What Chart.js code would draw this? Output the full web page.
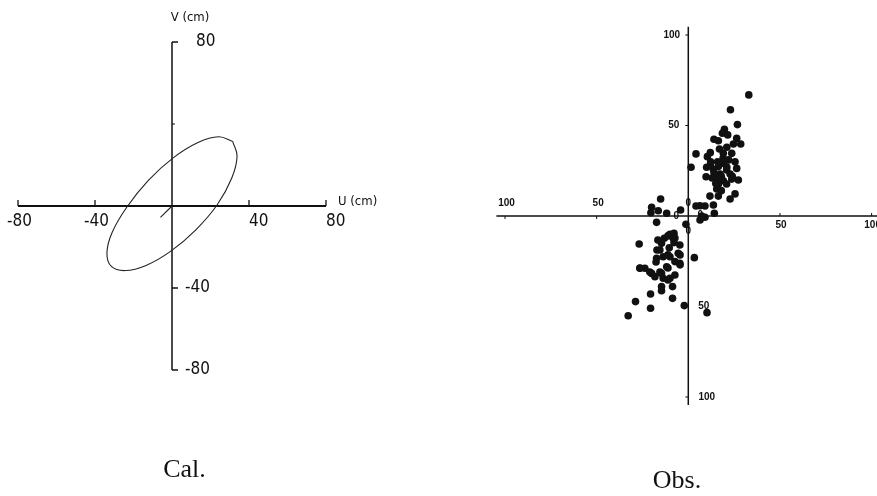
<!DOCTYPE html>
<html>
<head>
<meta charset="utf-8">
<script src="https://cdn.jsdelivr.net/npm/chart.js@4"></script>
<style>
  html, body { margin: 0; padding: 0; background: #fff; }
  body { width: 877px; height: 496px; position: relative; overflow: hidden; }
  #calBox { position: absolute; left: 0; top: 0; width: 440px; height: 496px; }
  #obsBox { position: absolute; left: 440px; top: 0; width: 437px; height: 496px; }
</style>
</head>
<body>
<div id="calBox"><canvas id="calChart"></canvas></div>
<div id="obsBox"><canvas id="obsChart"></canvas></div>
<script>
// Cal. panel: computed ellipse (U, V in cm)
const calEllipseU = [31.5, 24.3, 13.5, 0.6, -12.4, -23.5, -31.0, -33.8, -31.5, -24.3, -13.5, -0.6, 12.4, 23.5, 31.0, 33.8, 31.5];
const calEllipseV = [31.5, 33.8, 31.0, 23.5, 12.4, -0.6, -12.7, -22.8, -29.5, -31.5, -29.0, -22.0, -11.6, 0.6, 13.5, 24.3, 31.5];
const calSegU = [-6, 0];
const calSegV = [-5.5, 0];
const calUTicks = [-80, -40, 40, 80];
const calVTicks = [80, -40, -80];

// Obs. panel: observed points
const obsU = [33.0, 23.0, 26.8, 19.7, 18.6, 21.5, 14.0, 16.4, 26.4, 28.6,
  24.6, 4.2, 1.5, 10.4, 12.2, 10.0, 19.1, 23.7, 25.5, 19.1,
  16.4, 13.7, 20.9, 26.4, 17.3, 22.8, 27.3, 15.5, 19.1, 23.7,
  9.7, 16.4, 20.9, 15.5, 11.8, 16.4, 25.5, 22.8, 13.7, 14.2,
  9.1, 6.4, 4.2, 7.3, 6.4, 9.1,
  14, 18, 21, 16, 12, 19, 22, 15, 18, 13, 24, 17, 21, 12,
  -15.1, -20.0, -20.4, -16.4, -11.8, -4.2, -17.3, -1.3,
  -10.0, -7.8, -13.1, -14.6, -8.2, -7.8, -15.5, -10.4, -4.6, -5.5,
  -17.3, -13.7, -10.0, -7.3, -4.6, -26.8, -26.4, -23.7, -20.0, -18.2,
  -14.6, -13.7, -10.0, -7.3, -11.8, -14.6, -14.6, -8.6, 3.3, -20.6,
  -8.6, -28.8, -20.6, -2.2, 10.2, -32.8,
  -16.6, -7.3, -11.1, -17.1, -17.6, -15.5, -11.1, -4.5, -11.1, -11.1, -26.4, -21.0, -4.5];
const obsV = [66.9, 58.7, 50.5, 47.9, 45.7, 44.8, 42.4, 41.6, 42.9, 39.8,
  39.8, 34.3, 26.9, 32.8, 30.0, 26.9, 34.6, 34.6, 30.0, 29.1,
  27.3, 25.8, 25.4, 26.3, 23.2, 23.2, 19.9, 20.8, 19.5, 20.4,
  21.7, 17.7, 17.7, 14.9, 11.0, 11.0, 12.2, 9.4, 6.1, 1.5,
  5.5, 5.7, 5.5, 0, -2.2, -0.7,
  24, 22, 27, 30, 28, 32, 31, 18, 14, 21, 22, 37, 38, 35,
  9.4, 4.8, 1.8, 2.9, 1.5, 3.3, -3.5, -4.6,
  -10.1, -9.6, -12.3, -15.1, -12.3, -14.7, -18.8, -17.5, -16.0, -20.6,
  -23.4, -22.5, -22.5, -25.2, -26.2, -15.5, -28.9, -28.9, -31.7, -33.5,
  -31.7, -34.4, -34.4, -32.6, -28.0, -39.0, -41.3, -39.0, -23.0, -43.1,
  -45.5, -47.3, -51.0, -49.5, -53.4, -55.1,
  -13.3, -12.2, -11.0, -18.8, -25.4, -30.9, -21.5, -21.5, -28.7, -35.4, -28.7, -31.0, -27.0];
const obsTicks = [100, 50, 0];

const ink = '#111';
const calFont = '17px "DejaVu Sans Condensed", "DejaVu Sans", sans-serif';
const obsFont = 'bold 10px "Liberation Sans", Arial, sans-serif';

function pairs(us, vs) {
  return us.map((u, i) => ({ x: u, y: vs[i] }));
}

const calAxes = {
  id: 'calAxes',
  beforeDatasetsDraw(chart) {
    const { ctx, scales: { x, y } } = chart;
    const x0 = x.getPixelForValue(0), y0 = y.getPixelForValue(0);
    ctx.save();
    ctx.strokeStyle = ink;
    // U axis
    ctx.lineWidth = 2.2;
    ctx.beginPath();
    ctx.moveTo(x.getPixelForValue(-80), y0);
    ctx.lineTo(x.getPixelForValue(80), y0);
    ctx.stroke();
    ctx.lineWidth = 1.3;
    calUTicks.forEach(v => {
      const px = x.getPixelForValue(v);
      ctx.beginPath(); ctx.moveTo(px, y0); ctx.lineTo(px, y0 - 6); ctx.stroke();
    });
    // V axis
    ctx.lineWidth = 1.5;
    ctx.beginPath();
    ctx.moveTo(x0, y.getPixelForValue(80));
    ctx.lineTo(x0, y.getPixelForValue(-80));
    ctx.stroke();
    calVTicks.forEach(v => {
      const py = y.getPixelForValue(v);
      ctx.beginPath(); ctx.moveTo(x0, py); ctx.lineTo(x0 + 6, py); ctx.stroke();
    });
    ctx.lineWidth = 1;
    const p40 = y.getPixelForValue(40);
    ctx.beginPath(); ctx.moveTo(x0, p40); ctx.lineTo(x0 + 3, p40); ctx.stroke();

    ctx.fillStyle = ink;
    ctx.font = calFont;
    ctx.textAlign = 'left';
    ctx.textBaseline = 'top';
    calUTicks.forEach(v => {
      ctx.fillText(String(v), x.getPixelForValue(v) - (v < 0 ? 11 : 0), y0 + 7);
    });
    ctx.textBaseline = 'middle';
    calVTicks.forEach(v => {
      ctx.fillText(String(v), x0 + 24 - (v < 0 ? 11 : 0), y.getPixelForValue(v));
    });
    ctx.font = '13px "DejaVu Sans Condensed", "DejaVu Sans", sans-serif';
    ctx.textAlign = 'center';
    ctx.textBaseline = 'alphabetic';
    ctx.fillText('V (cm)', x0 + 18, 21);
    ctx.textAlign = 'left';
    ctx.fillText('U (cm)', x.getPixelForValue(80) + 12, y0 - 1);
    // caption
    ctx.font = '26px "Liberation Serif", "Times New Roman", serif';
    ctx.textAlign = 'center';
    ctx.fillText('Cal.', 184.5, 477);
    ctx.restore();
  }
};

const obsAxes = {
  id: 'obsAxes',
  beforeDatasetsDraw(chart) {
    const { ctx, scales: { x, y } } = chart;
    const x0 = x.getPixelForValue(0), y0 = y.getPixelForValue(0);
    ctx.save();
    ctx.strokeStyle = ink;
    ctx.lineWidth = 1.5;
    ctx.beginPath();
    ctx.moveTo(x.getPixelForValue(-104.7), y0);
    ctx.lineTo(x.getPixelForValue(106), y0);
    ctx.moveTo(x0, y.getPixelForValue(104.6));
    ctx.lineTo(x0, y.getPixelForValue(-104.4));
    ctx.stroke();
    ctx.lineWidth = 1;
    [50, 100].forEach(v => {
      let p = x.getPixelForValue(-v);
      ctx.beginPath(); ctx.moveTo(p, y0); ctx.lineTo(p, y0 + 3); ctx.stroke();
      p = x.getPixelForValue(v);
      ctx.beginPath(); ctx.moveTo(p, y0); ctx.lineTo(p, y0 - 3); ctx.stroke();
      p = y.getPixelForValue(v);
      ctx.beginPath(); ctx.moveTo(x0, p); ctx.lineTo(x0 - 3, p); ctx.stroke();
      p = y.getPixelForValue(-v);
      ctx.beginPath(); ctx.moveTo(x0, p); ctx.lineTo(x0 - 3, p); ctx.stroke();
    });

    ctx.fillStyle = ink;
    ctx.font = obsFont;
    ctx.textAlign = 'center';
    ctx.textBaseline = 'middle';
    obsTicks.forEach(v => {
      const t = String(v);
      if (v === 0) {
        ctx.fillText(t, x0 - 12, y0 + 0.5);
        ctx.fillText(t, x0 + 12, y0 - 1);
        ctx.fillText(t, x0, y0 - 12.5);
        ctx.fillText(t, x0, y0 + 15.5);
      } else {
        ctx.fillText(t, x.getPixelForValue(-v) + 1.5, y0 - 12.5);
        ctx.fillText(t, x.getPixelForValue(v) + 1, y0 + 9);
        ctx.fillText(t, x0 - (v === 100 ? 16.5 : 14.5), y.getPixelForValue(v));
        ctx.fillText(t, x0 + (v === 100 ? 18.5 : 15.5), y.getPixelForValue(-v));
      }
    });
    // caption
    ctx.font = '26px "Liberation Serif", "Times New Roman", serif';
    ctx.textBaseline = 'alphabetic';
    ctx.fillText('Obs.', 237, 488);
    ctx.restore();
  }
};

const hiddenScale = (min, max) => ({ type: 'linear', min: min, max: max, display: false });

new Chart(document.getElementById('calChart'), {
  type: 'scatter',
  data: {
    datasets: [{
      label: 'Cal.',
      data: pairs(calEllipseU, calEllipseV),
      showLine: true,
      tension: 0.4,
      borderColor: '#222',
      borderWidth: 1.1,
      pointRadius: 0,
      clip: false
    }, {
      label: 'start',
      data: pairs(calSegU, calSegV),
      showLine: true,
      borderColor: '#222',
      borderWidth: 1.1,
      pointRadius: 0,
      clip: false
    }]
  },
  options: {
    responsive: true,
    maintainAspectRatio: false,
    animation: false,
    events: [],
    layout: { padding: { left: 18, right: 114, top: 42, bottom: 126 } },
    scales: { x: hiddenScale(-80, 80), y: hiddenScale(-80, 80) },
    plugins: { legend: { display: false }, tooltip: { enabled: false } }
  },
  plugins: [calAxes]
});

new Chart(document.getElementById('obsChart'), {
  type: 'scatter',
  data: {
    datasets: [{
      label: 'Obs.',
      data: pairs(obsU, obsV),
      backgroundColor: ink,
      borderWidth: 0,
      pointRadius: 3.8,
      clip: false
    }]
  },
  options: {
    responsive: true,
    maintainAspectRatio: false,
    animation: false,
    events: [],
    layout: { padding: { left: 65, right: 5.4, top: 35, bottom: 99 } },
    scales: { x: hiddenScale(-100, 100), y: hiddenScale(-100, 100) },
    plugins: { legend: { display: false }, tooltip: { enabled: false } }
  },
  plugins: [obsAxes]
});
</script>
</body>
</html>
